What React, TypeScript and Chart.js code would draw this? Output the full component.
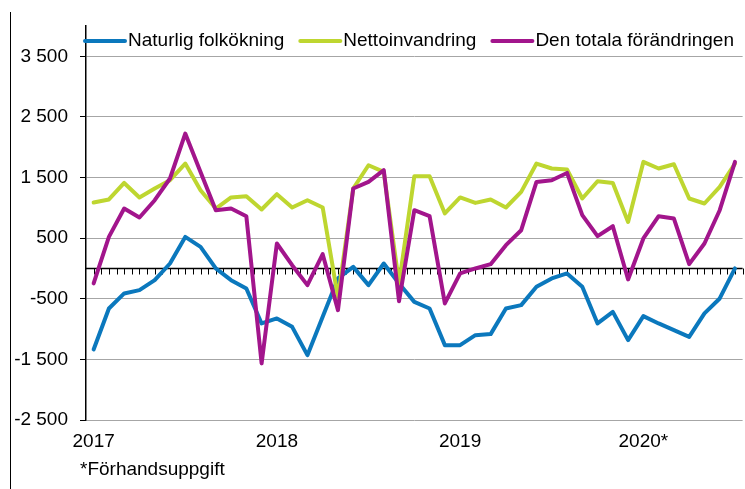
import React, { useEffect, useRef } from 'react';
import { Chart, registerables } from 'chart.js';

Chart.register(...registerables);

const months = [
  '2017M01', '2017M02', '2017M03', '2017M04', '2017M05', '2017M06', '2017M07', '2017M08', '2017M09', '2017M10', '2017M11', '2017M12',
  '2018M01', '2018M02', '2018M03', '2018M04', '2018M05', '2018M06', '2018M07', '2018M08', '2018M09', '2018M10', '2018M11', '2018M12',
  '2019M01', '2019M02', '2019M03', '2019M04', '2019M05', '2019M06', '2019M07', '2019M08', '2019M09', '2019M10', '2019M11', '2019M12',
  '2020M01', '2020M02', '2020M03', '2020M04', '2020M05', '2020M06', '2020M07',
];

const yearLabels = ['2017', '2018', '2019', '2020*'];

const naturligFolkokning = [
  -1336, -660, -412, -358, -193, 82, 521, 356, 0, -193, -330, -907,
  -824, -963, -1430, -798, -165, 26, -275, 82, -247, -551, -660, -1265,
  -1265, -1100, -1083, -660, -605, -303, -165, -82, -303, -907, -716, -1182,
  -786, -907, -1017, -1128, -742, -495, 0,
];

const nettoinvandring = [
  1088, 1138, 1411, 1171, 1319, 1456, 1731, 1291, 989, 1171, 1192, 973,
  1225, 1006, 1126, 1006, -480, 1319, 1703, 1593, -250, 1522, 1522, 907,
  1171, 1082, 1138, 1006, 1263, 1731, 1649, 1632, 1154, 1439, 1411, 768,
  1758, 1649, 1720, 1154, 1072, 1345, 1731,
];

const totalaForandringen = [
  -247, 521, 989, 841, 1126, 1484, 2226, 1593, 961, 989, 862, -1566,
  412, 54, -275, 236, -688, 1319, 1428, 1621, -540, 961, 862, -577,
  -82, 0, 71, 384, 631, 1428, 1456, 1576, 879, 533, 697, -181,
  495, 862, 824, 71, 412, 961, 1758,
];

const seriesNames = ['Naturlig folkökning', 'Nettoinvandring', 'Den totala förändringen'];
const seriesColors = ['#0b78bd', '#bed630', '#a2158c'];

const yTickValues = [-2500, -1500, -500, 500, 1500, 2500, 3500];
const yTickLabels = ['-2 500', '-1 500', '-500', '500', '1 500', '2 500', '3 500'];

const footnote = '*Förhandsuppgift';

const FONT = '"Liberation Sans", Arial, sans-serif';
const FONT_SIZE = 19;

const zeroLinePlugin = {
  id: 'zeroLine',
  beforeDatasetsDraw(chart: any) {
    const { ctx, chartArea, scales } = chart;
    const x = scales.x;
    const y = scales.y;
    const y0 = Math.round(y.getPixelForValue(0)) + 0.5;
    ctx.save();
    ctx.strokeStyle = '#000';
    ctx.lineWidth = 1.5;
    ctx.beginPath();
    ctx.moveTo(chartArea.left, y0);
    ctx.lineTo(chartArea.right, y0);
    ctx.stroke();
    ctx.lineWidth = 1;
    ctx.beginPath();
    for (let i = 1; i <= months.length * 2; i++) {
      const px = Math.round(x.getPixelForValue(i / 2 - 0.5)) + 0.5;
      ctx.moveTo(px, y0);
      ctx.lineTo(px, y0 + 6);
    }
    ctx.stroke();
    ctx.restore();
  },
};

const legendPlugin = {
  id: 'customLegend',
  afterDraw(chart: any) {
    const { ctx } = chart;
    ctx.save();
    ctx.font = FONT_SIZE + 'px ' + FONT;
    ctx.textBaseline = 'middle';
    ctx.textAlign = 'left';
    let x = 83;
    const y = 41;
    chart.data.datasets.forEach((ds: any) => {
      ctx.strokeStyle = ds.borderColor;
      ctx.lineWidth = 4;
      ctx.lineCap = 'round';
      ctx.beginPath();
      ctx.moveTo(x + 2, y);
      ctx.lineTo(x + 42, y);
      ctx.stroke();
      ctx.fillStyle = '#000';
      ctx.fillText(ds.label, x + 45, y);
      x += 45 + ctx.measureText(ds.label).width + 14;
    });
    ctx.fillText(footnote, 80, 470);
    ctx.restore();
  },
};

export default function App() {
  const canvasRef = useRef<HTMLCanvasElement | null>(null);

  useEffect(() => {
    const canvas = canvasRef.current;
    if (!canvas) return;
    const series = [naturligFolkokning, nettoinvandring, totalaForandringen];
    const chart = new Chart(canvas, {
      type: 'line',
      data: {
        labels: months,
        datasets: series.map((d, i) => ({
          label: seriesNames[i],
          data: d,
          borderColor: seriesColors[i],
          backgroundColor: seriesColors[i],
          borderWidth: 4,
          pointRadius: 0,
          tension: 0,
          borderJoinStyle: 'round' as const,
          borderCapStyle: 'round' as const,
          order: 3 - i,
        })),
      },
      options: {
        animation: false,
        responsive: false,
        devicePixelRatio: 1,
        layout: { padding: { top: 26, right: 1, left: 0, bottom: 0 } },
        plugins: {
          legend: { display: false },
          tooltip: { enabled: false },
          title: { display: false },
        },
        scales: {
          x: {
            type: 'category',
            offset: true,
            grid: { display: false, drawTicks: false },
            border: { display: false },
            ticks: {
              autoSkip: false,
              maxRotation: 0,
              minRotation: 0,
              padding: 10,
              color: '#000',
              font: { family: FONT, size: FONT_SIZE },
              callback: (_v: any, i: number) => (i % 12 === 0 ? yearLabels[i / 12] : ''),
            },
            afterFit: (s: any) => {
              s.height = 69;
            },
          },
          y: {
            min: -2500,
            max: 4000,
            afterBuildTicks: (s: any) => {
              s.ticks = yTickValues.map((v) => ({ value: v }));
            },
            ticks: {
              color: '#000',
              padding: 12,
              font: { family: FONT, size: FONT_SIZE },
              callback: (_v: any, i: number) => yTickLabels[i],
            },
            grid: { color: '#a6a6a6', lineWidth: 1, tickLength: 6, tickColor: '#000' },
            border: { color: '#000', width: 1.5 },
            afterFit: (s: any) => {
              s.width = 86;
            },
          },
        },
      },
      plugins: [zeroLinePlugin, legendPlugin],
    });
    return () => chart.destroy();
  }, []);

  return (
    <div style={{ position: 'absolute', left: 0, top: 0, width: 745, height: 489, background: '#fff' }}>
      <div
        style={{
          position: 'absolute',
          left: 10,
          top: 12,
          width: 0,
          height: 477,
          borderLeft: '1px solid #000',
        }}
      />
      <canvas ref={canvasRef} width={745} height={489} style={{ display: 'block' }} />
    </div>
  );
}
